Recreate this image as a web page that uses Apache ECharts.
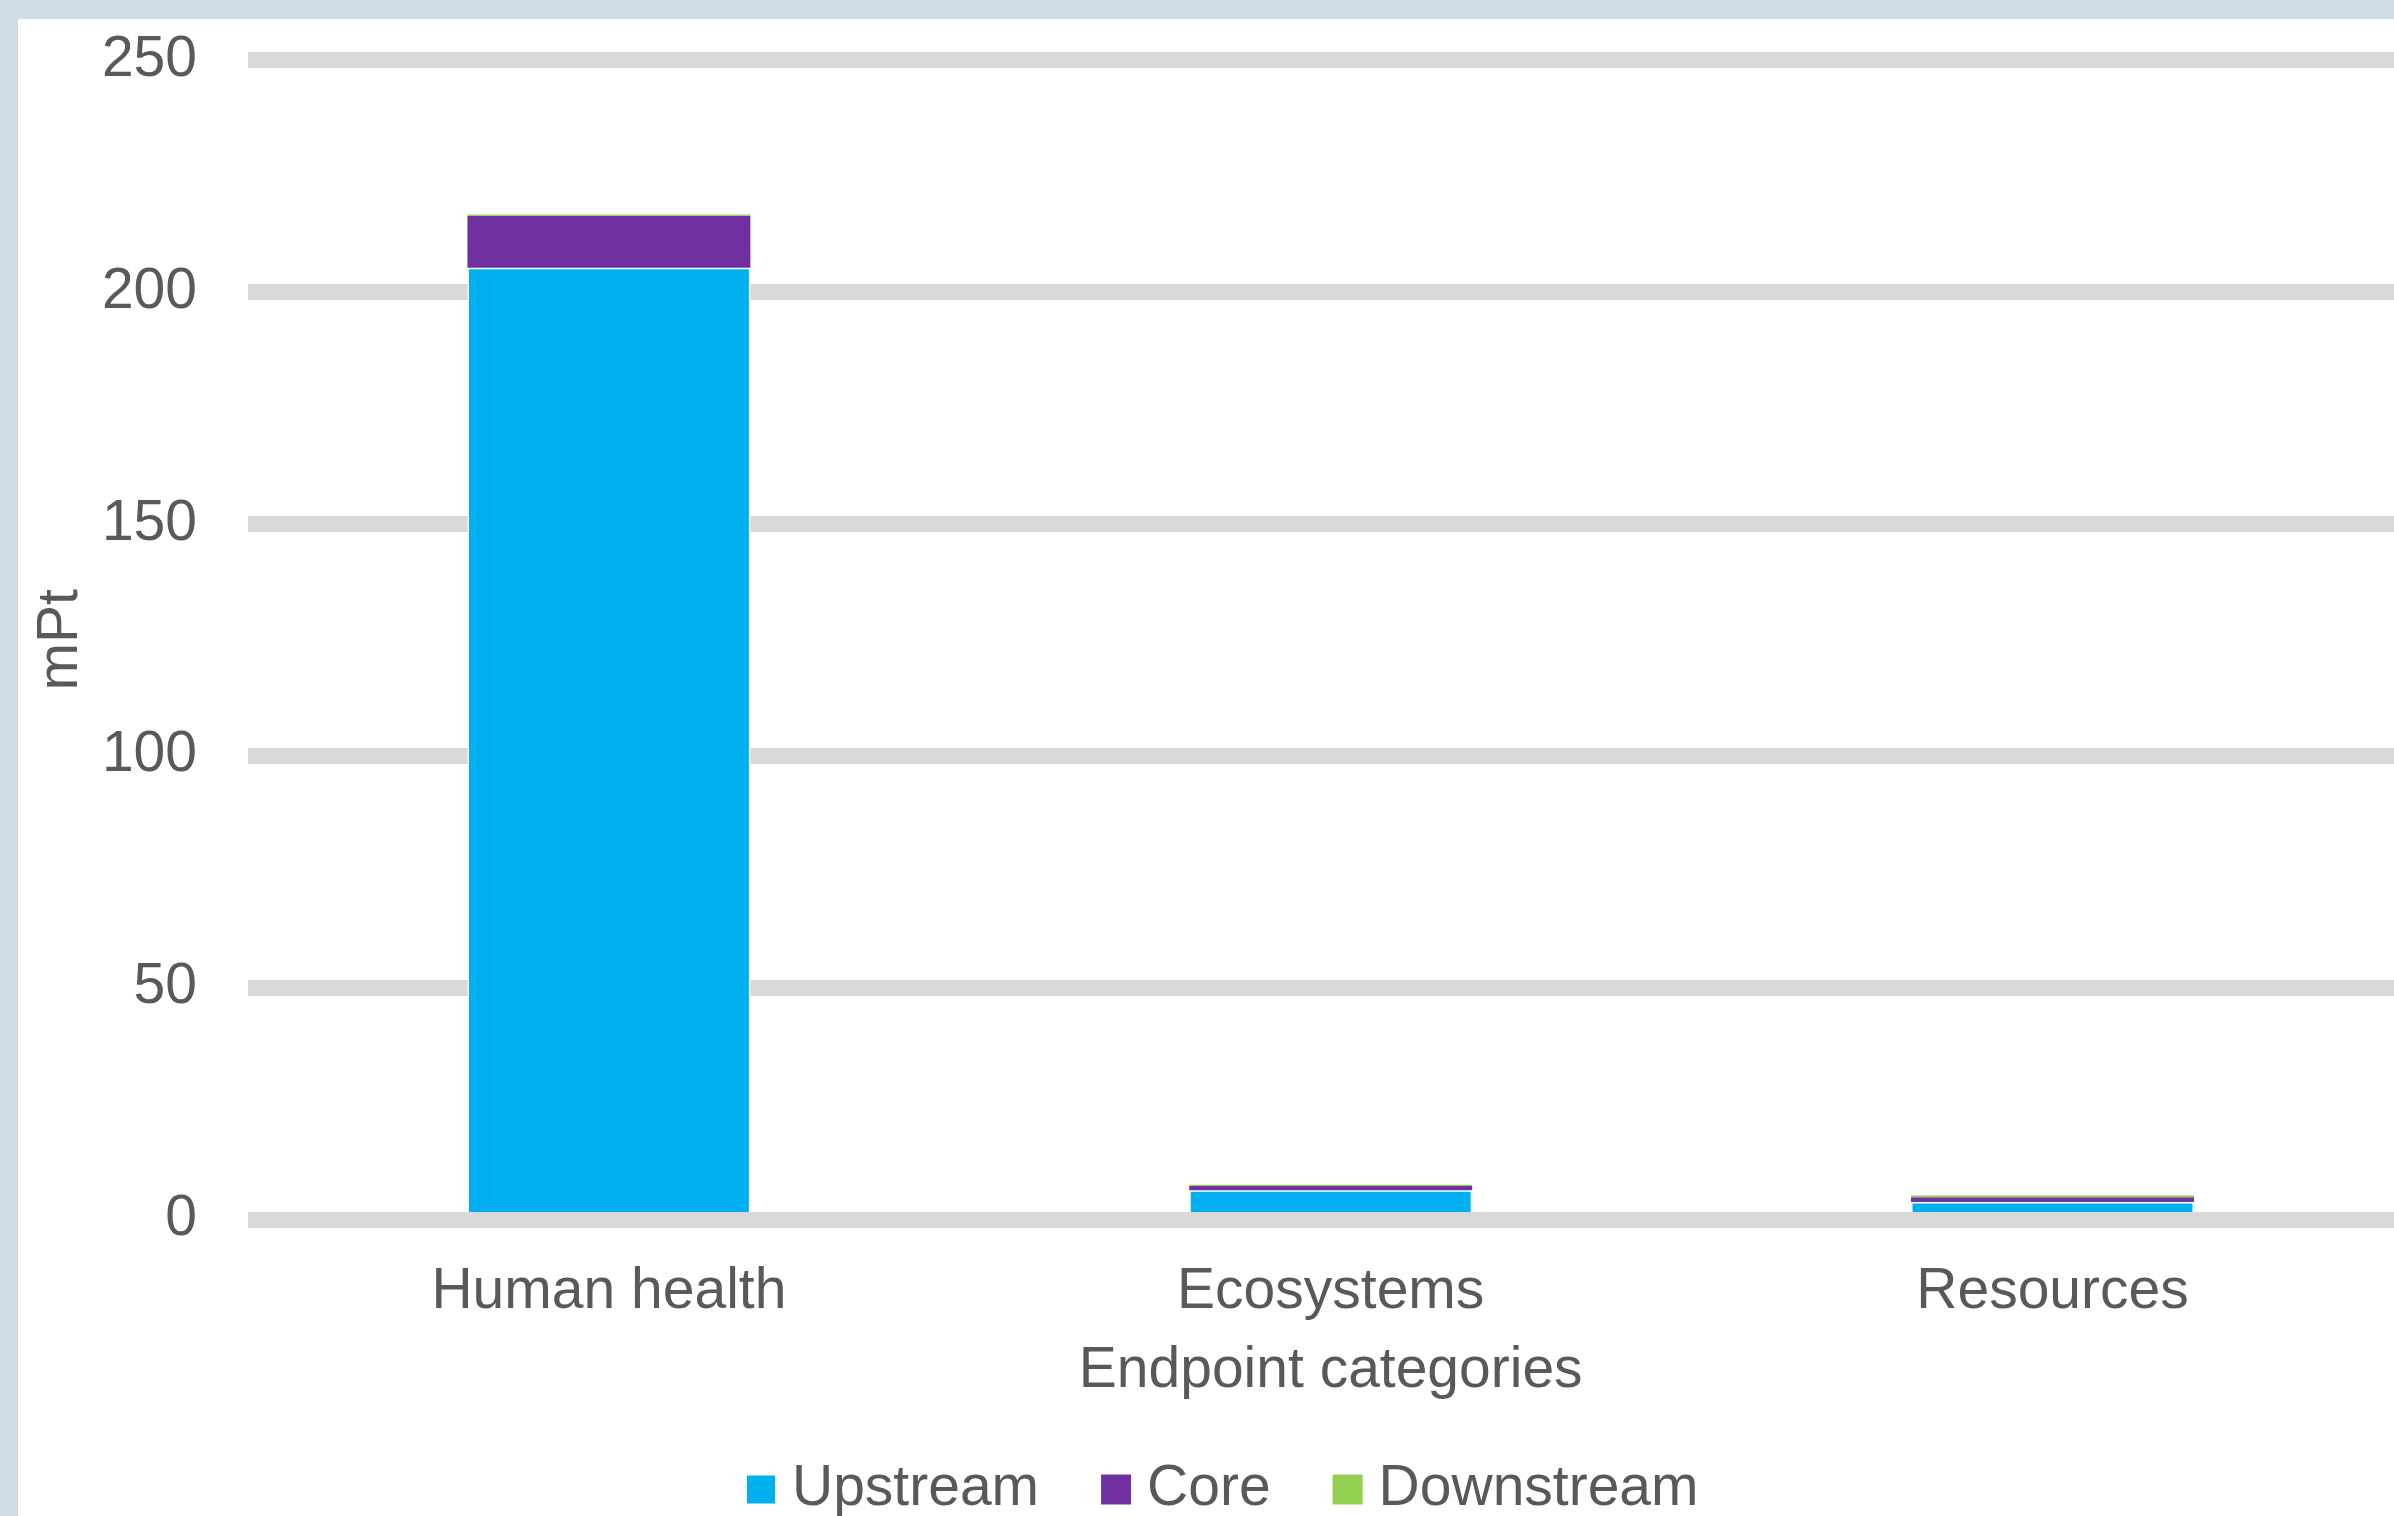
<!DOCTYPE html>
<html>
<head>
<meta charset="utf-8">
<script src="https://cdn.jsdelivr.net/npm/echarts@6/dist/echarts.min.js"></script>
<style>
  html, body { margin: 0; padding: 0; width: 2394px; height: 1516px; background: #cfdce5; overflow: hidden; position: relative; }
  #chart { position: absolute; left: 18px; top: 19px; width: 2450px; height: 1497px; background: #ffffff; }
</style>
</head>
<body>
<div id="chart"></div>
<script>
const categories = ['Human health', 'Ecosystems', 'Resources'];
const upstream = [205.2, 6.3, 3.8];
const core = [11.2, 0.9, 1.0];
const downstream = [0.3, 0.3, 0.4];
const seriesNames = ['Upstream', 'Core', 'Downstream'];
const yTicks = { min: 0, max: 250, interval: 50 };

const FONT = '"Liberation Sans", Arial, sans-serif';
const TXT = '#595959';
const chart = echarts.init(document.getElementById('chart'), null, { renderer: 'canvas' });

const option = {
  animation: false,
  backgroundColor: '#ffffff',
  textStyle: { fontFamily: FONT },
  grid: { left: 230, width: 2165.4, top: 41, bottom: 296.5, containLabel: false },
  legend: {
    data: seriesNames,
    left: 722,
    top: 1437,
    itemWidth: 30,
    itemHeight: 30,
    itemGap: 62,
    icon: 'rect',
    textStyle: { fontFamily: FONT, fontSize: 57, color: TXT, padding: [0, 0, 0, 11] }
  },
  xAxis: {
    type: 'category',
    data: categories,
    z: 10,
    name: 'Endpoint categories',
    nameLocation: 'middle',
    nameGap: 123,
    nameTextStyle: { fontFamily: FONT, fontSize: 57, color: TXT },
    axisLine: { show: true, lineStyle: { color: '#d9d9d9', width: 16, cap: 'butt' } },
    axisTick: { show: false },
    axisLabel: { fontFamily: FONT, fontSize: 57, color: TXT, margin: 44 },
    splitLine: { show: false }
  },
  yAxis: {
    type: 'value',
    min: yTicks.min,
    max: yTicks.max,
    interval: yTicks.interval,
    name: 'mPt',
    nameLocation: 'middle',
    nameGap: 158,
    nameTextStyle: { fontFamily: FONT, fontSize: 57, color: TXT },
    axisLine: { show: false },
    axisTick: { show: false },
    axisLabel: { fontFamily: FONT, fontSize: 57, color: TXT, margin: 51 },
    splitLine: { show: true, lineStyle: { color: '#d9d9d9', width: 16, cap: 'butt' } }
  },
  series: [
    {
      name: seriesNames[0], type: 'bar', stack: 'total', data: upstream,
      barWidth: '39.2%',
      itemStyle: { color: '#00b0f0', borderColor: '#ffffff', borderWidth: 1.5 }
    },
    {
      name: seriesNames[1], type: 'bar', stack: 'total', data: core,
      barWidth: '39.2%',
      itemStyle: { color: '#7030a0' }
    },
    {
      name: seriesNames[2], type: 'bar', stack: 'total', data: downstream,
      barWidth: '39.2%',
      itemStyle: { color: '#92d050' }
    }
  ]
};
chart.setOption(option);
</script>
</body>
</html>
